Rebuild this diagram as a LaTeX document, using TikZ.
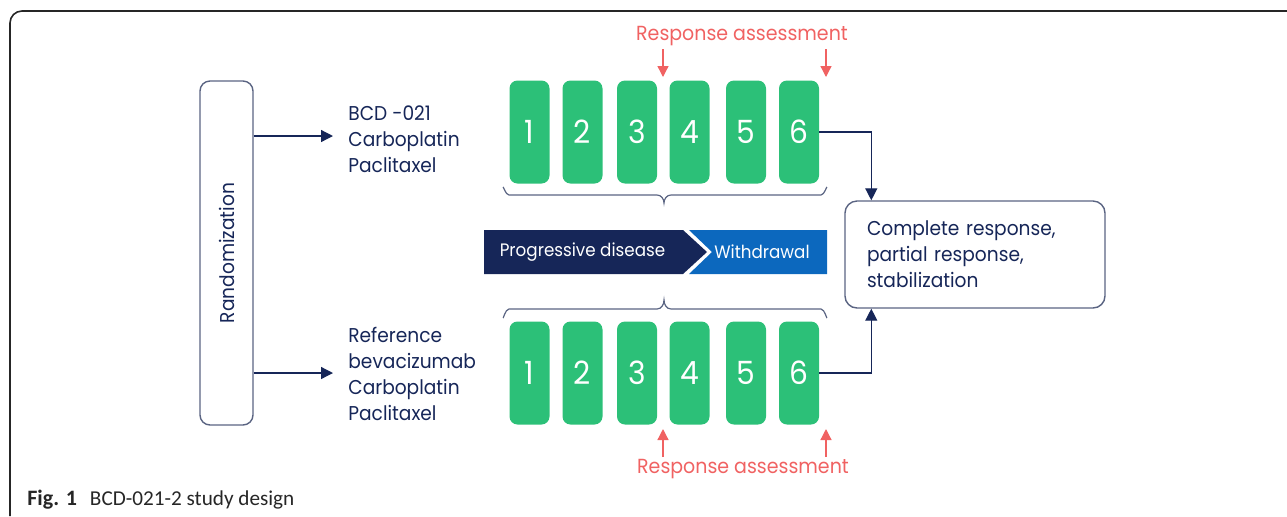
\documentclass[tikz,border=0pt]{standalone}
\usepackage{fontspec}
\setmainfont{Poppins}[FakeStretch=0.93]
\newfontfamily\capfont{Carlito}
\usetikzlibrary{arrows.meta,calc}
\definecolor{navy}{RGB}{22,38,88}
\definecolor{grn}{RGB}{44,192,120}
\definecolor{wblue}{RGB}{12,104,190}
\definecolor{rred}{RGB}{240,98,98}
\definecolor{edgec}{RGB}{90,100,130}
\begin{document}
\begin{tikzpicture}[x=0.5pt,y=-0.5pt,
  lbl/.style={font=\fontsize{10}{13}\selectfont, text=navy, align=left, inner sep=0pt},
  cyc/.style={fill=grn, rounded corners=4pt, minimum width=20pt, minimum height=51.5pt, inner sep=0pt, text=white, font=\fontsize{16}{18}\selectfont},
  arr/.style={draw=navy, line width=0.65pt, -{Triangle[length=6pt,width=6pt]}},
  rarr/.style={draw=rred, line width=0.65pt, -{Triangle[length=5.5pt,width=5.5pt]}},
  rtxt/.style={font=\fontsize{10.2}{12}\selectfont, text=rred, inner sep=0pt},
  brc/.style={draw=edgec, line width=0.6pt},
  btxt/.style={font=\fontsize{9}{12}\selectfont, text=white, inner sep=0pt}
]
\useasboundingbox (0,0) rectangle (1287,516);
% outer frame
\draw[line width=0.8pt, black!85, rounded corners=6pt] (10,516) -- (10,11) -- (1287,11);
% randomization
\node[draw=edgec, line width=0.7pt, rounded corners=5pt, minimum width=26.5pt, minimum height=172pt, inner sep=0pt, font=\fontsize{10}{12}\selectfont, text=navy] (rand) at (226.5,253) {\rotatebox{90}{Randomization}};
% arm labels
\node[lbl, anchor=west] (lab1) at (348,139.5) {BCD -021\\Carboplatin\\Paclitaxel};
\node[lbl, anchor=west] (lab2) at (348,373.5) {Reference\\bevacizumab\\Carboplatin\\Paclitaxel};
\coordinate (t1) at (333,136);
\coordinate (t2) at (333,373);
\draw[arr] (rand.east |- t1) -- (t1);
\draw[arr] (rand.east |- t2) -- (t2);
% cycles
\foreach \i/\x in {1/529.5,2/582.5,3/637,4/689.5,5/746,6/799}{
  \node[cyc] (u\i) at (\x,132) {\i};
  \node[cyc] (d\i) at (\x,373) {\i};
}
% braces
\draw[brc] (503,188) to[out=90,in=180] (509,195) -- (657,195) to[out=0,in=90] (664,203) to[out=90,in=180] (671,195) -- (821,195) to[out=0,in=90] (827,188);
\draw[brc] (503,317) to[out=-90,in=180] (509,309) -- (657,309) to[out=0,in=-90] (664,300) to[out=-90,in=180] (671,309) -- (821,309) to[out=0,in=-90] (827,317);
% banner
\fill[navy] (484,230) -- (683,230) -- (707,252) -- (683,274) -- (484,274) -- cycle;
\fill[wblue] (689,230) -- (827,230) -- (827,274) -- (689,274) -- (712,252) -- cycle;
\node[btxt] (pd) at (582.5,252) {Progressive disease};
\node[btxt] (wd) at (762,252) {Withdrawal};
% result
\node[draw=edgec, line width=0.7pt, rounded corners=6pt, minimum width=130pt, minimum height=53.5pt, inner xsep=11pt, text width=108pt, align=left, font=\fontsize{10}{13}\selectfont, text=navy] (res) at (975,254.5) {Complete response,\\partial response,\\stabilization};
\draw[arr] (u6.east) -| ($(res.north west)+(27,0)$);
\draw[arr] (d6.east) -| ($(res.south west)+(27,0)$);
% response assessment
\node[rtxt] (ra1) at (742,36) {Response assessment};
\node[rtxt] (ra2) at (743,469) {Response assessment};
\coordinate (a1s) at (663,49); \coordinate (a1e) at (663,77);
\coordinate (a2s) at (826,49); \coordinate (a2e) at (826,77);
\coordinate (b1s) at (663,457); \coordinate (b1e) at (663,429);
\coordinate (b2s) at (826,457); \coordinate (b2e) at (826,429);
\draw[rarr] (a1s) -- (a1e);
\draw[rarr] (a2s) -- (a2e);
\draw[rarr] (b1s) -- (b1e);
\draw[rarr] (b2s) -- (b2e);
% caption
\node[anchor=base west, inner sep=0pt, font=\capfont\fontsize{10.6}{13}\selectfont, text=black!85] (cap) at (27,505) {\textbf{\fontsize{11}{13}\selectfont Fig. 1}\hspace{6.5pt}BCD-021-2 study design};
\end{tikzpicture}
\end{document}
